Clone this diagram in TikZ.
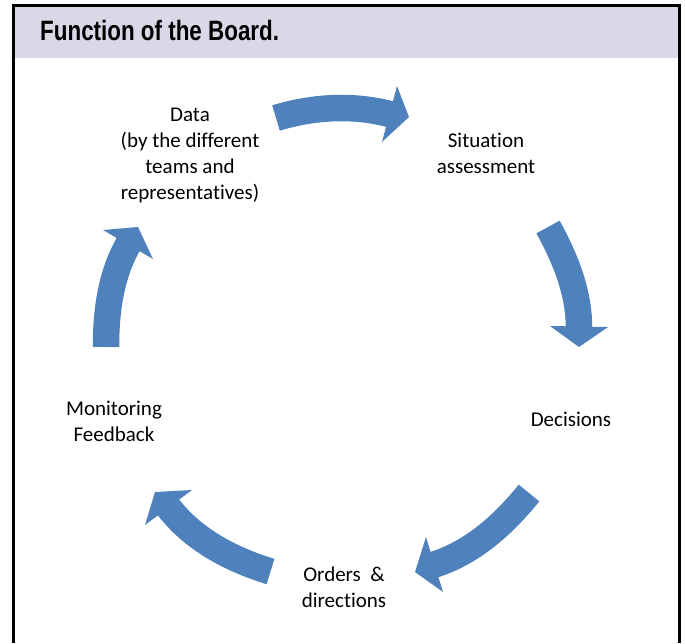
\documentclass[tikz,border=0pt]{standalone}
\usepackage{fontspec}
\setmainfont[Ligatures={NoCommon}]{Carlito}
\newfontfamily\titlefont{Liberation Sans}
\usepackage{graphicx}
\definecolor{arrowblue}{RGB}{79,129,189}
\definecolor{headgray}{RGB}{217,216,231}
\begin{document}
\begin{tikzpicture}[x=1pt,y=-1pt,
  lbl/.style={align=center,inner sep=0pt,font=\fontsize{21}{26}\selectfont},
  shaft/.style={draw=arrowblue,line width=26.5pt},
  headtri/.style={fill=arrowblue}]
\useasboundingbox (0,0) rectangle (685,643);
\fill[headgray] (14,7) rectangle (678,58);
\draw[line width=3pt] (13,643) -- (13,5) -- (679,5) -- (679,643);
\node[anchor=west,inner sep=0pt] (title) at (40,30) {\titlefont\bfseries\fontsize{28}{30}\selectfont\scalebox{0.8}[1]{Function of the Board.}};

\node[lbl] (data) at (190,155.5) {Data\\(by the different\\teams and\\representatives)};
\node[lbl] (sit) at (486,153.5) {Situation\\assessment};
\node[lbl] (dec) at (571,419) {Decisions};
\node[lbl] (ord) at (344,587.5) {Orders \ \&\\directions};
\node[lbl] (mon) at (114,421.5) {Monitoring\\Feedback};

% arrow 1: Data -> Situation
\coordinate (a1s) at (276,118);
\coordinate (a1e) at (391,114.5);
\draw[shaft] (a1s) .. controls (312,107) and (353,104) .. (a1e);
\fill[headtri] (397,86) -- (409,117) -- (382,142) -- cycle;
% arrow 2: Situation -> Decisions
\coordinate (a2s) at (548,227);
\coordinate (a2e) at (579,328);
\draw[shaft] (a2s) .. controls (565,258) and (579,291.5) .. (a2e);
\fill[headtri] (550,326) -- (579,347) -- (608,327) -- cycle;
% arrow 3: Decisions -> Orders
\coordinate (a3s) at (529,493);
\coordinate (a3e) at (433,565);
\draw[shaft] (a3s) .. controls (504,524) and (472.7,552.7) .. (a3e);
\fill[headtri] (426,537) -- (415,572) -- (443,592) -- cycle;
% arrow 4: Orders -> Monitoring
\coordinate (a4s) at (270.5,571.5);
\coordinate (a4e) at (167.5,506);
\draw[shaft] (a4s) .. controls (232.2,559.9) and (192.4,539.5) .. (a4e);
\fill[headtri] (192,490) -- (155,492) -- (145,525) -- cycle;
% arrow 5: Monitoring -> Data
\coordinate (a5s) at (106,347);
\coordinate (a5e) at (129,243);
\draw[shaft] (a5s) .. controls (106,312) and (110.5,274.8) .. (a5e);
\fill[headtri] (103,230) -- (138,227) -- (153,259) -- cycle;
\end{tikzpicture}
\end{document}
